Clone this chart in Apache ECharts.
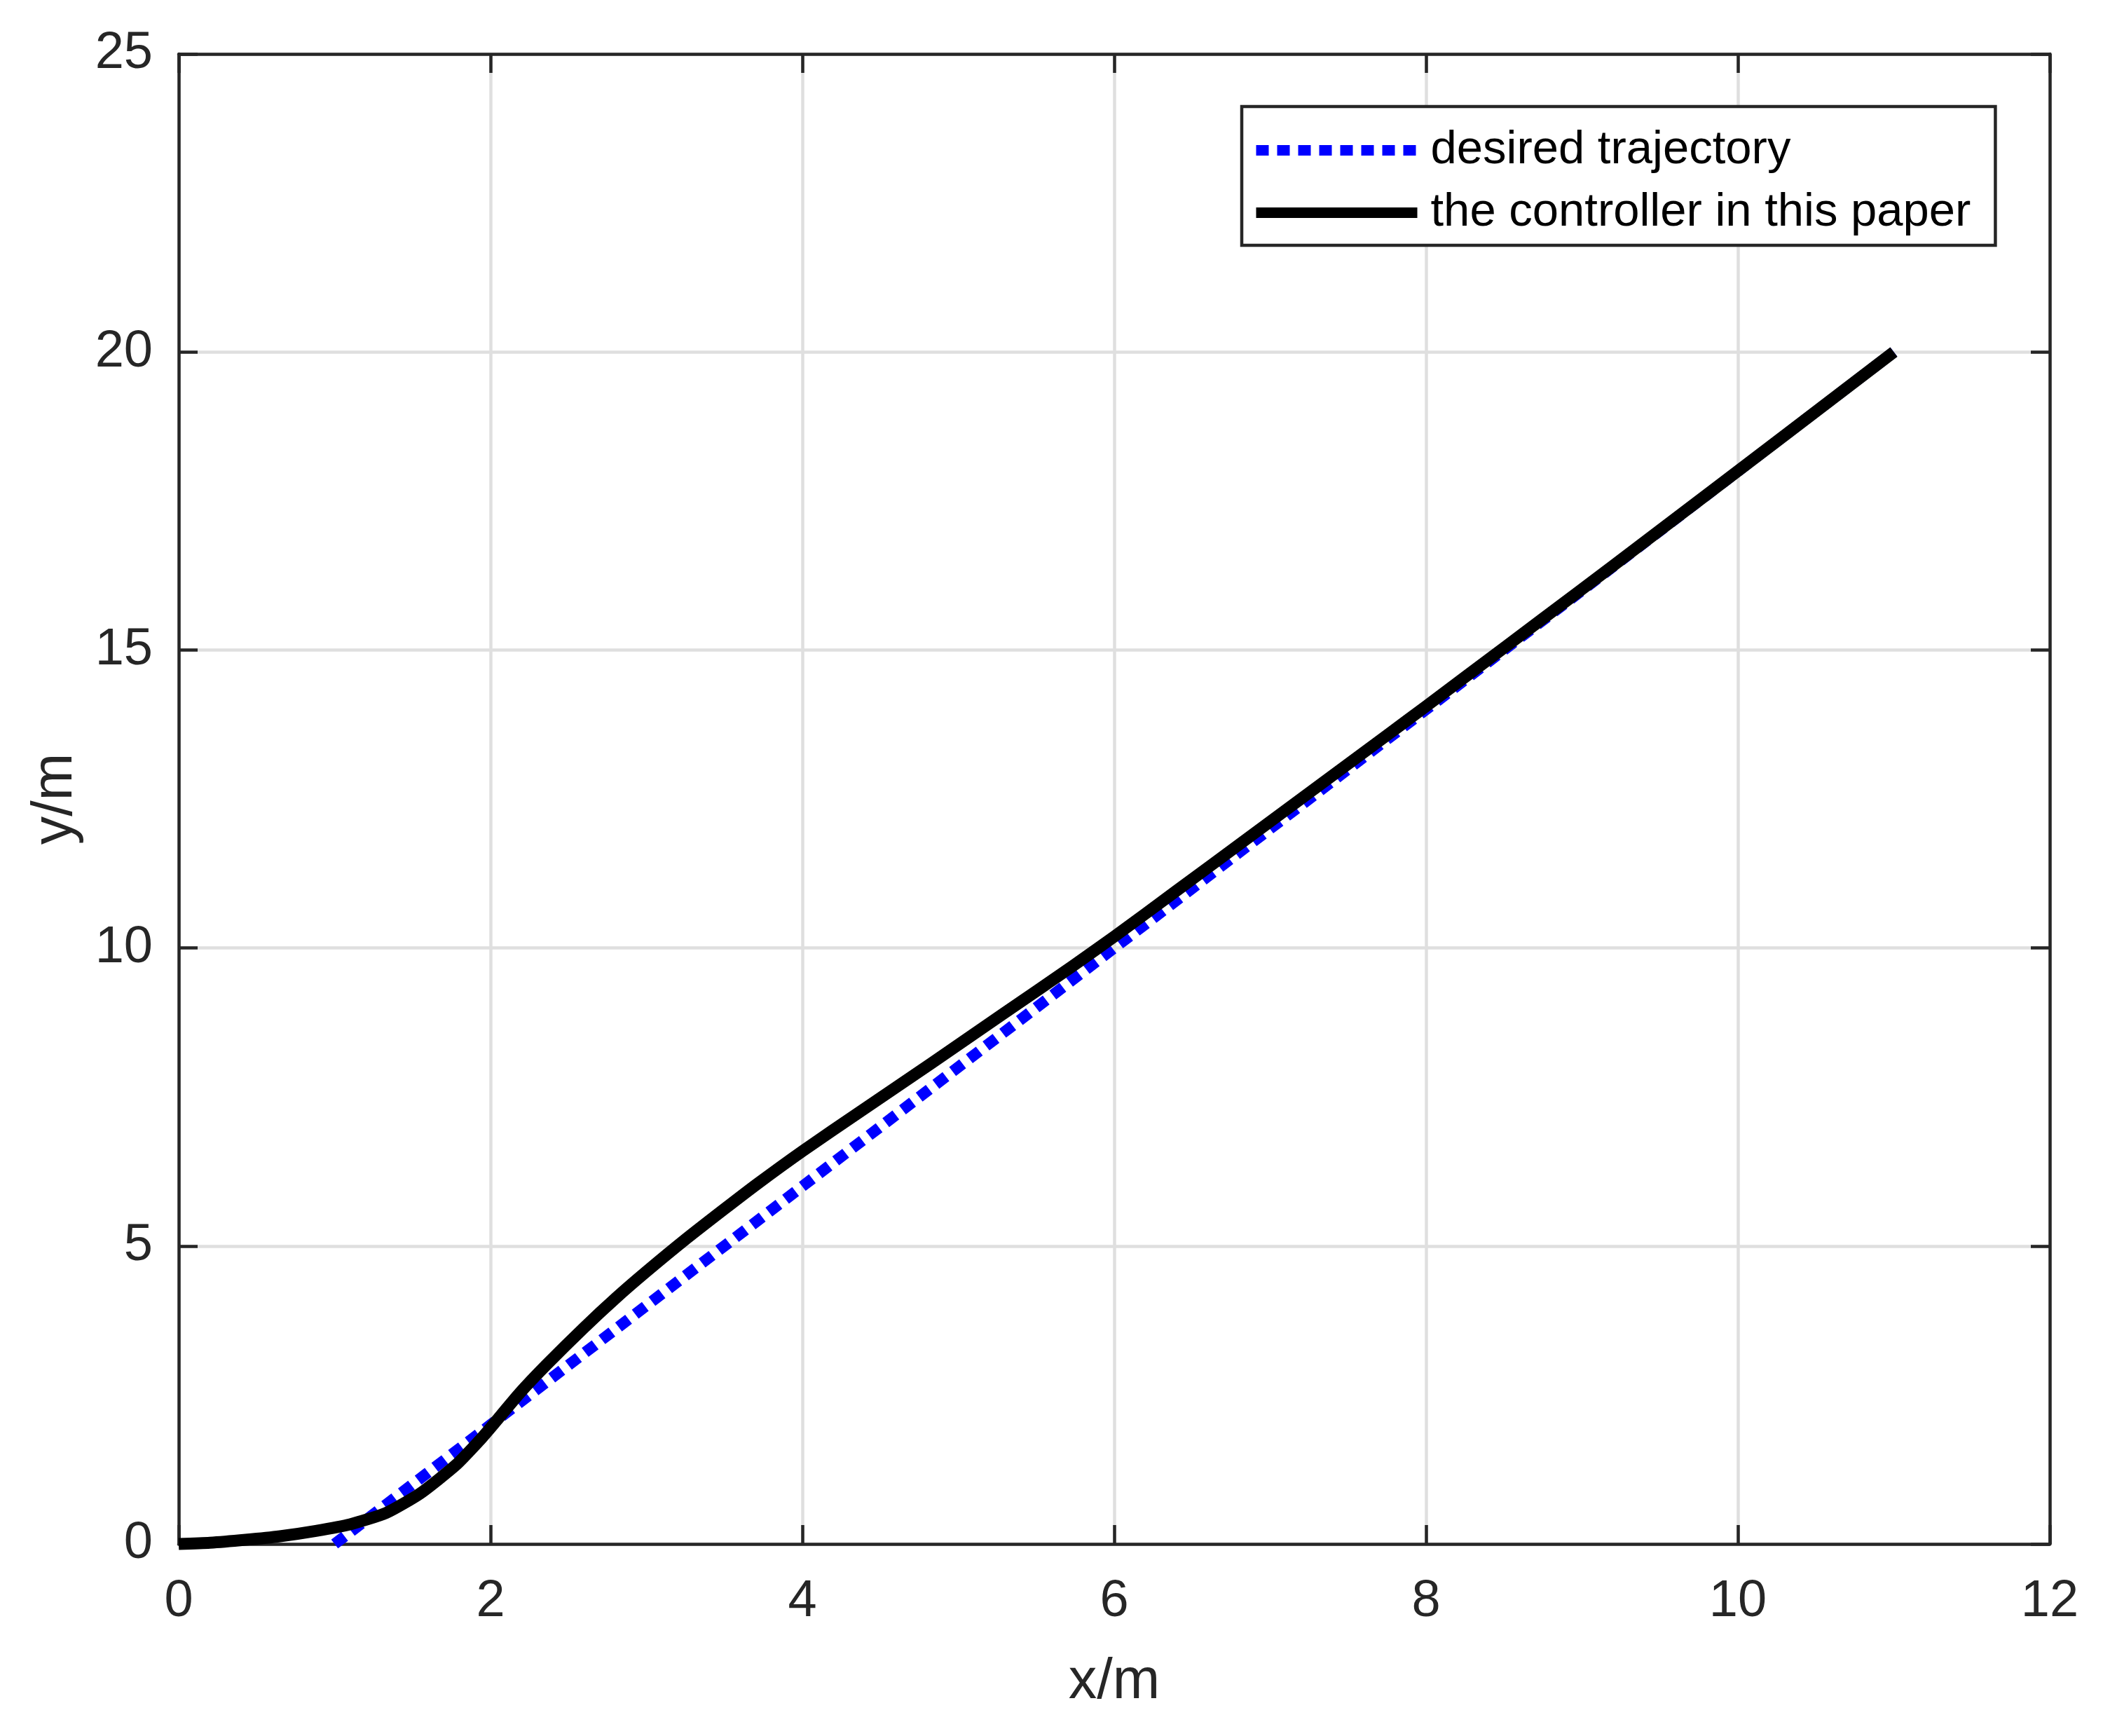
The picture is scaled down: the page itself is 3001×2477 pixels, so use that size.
<!DOCTYPE html>
<html>
<head>
<meta charset="utf-8">
<script src="https://cdn.jsdelivr.net/npm/echarts@6/dist/echarts.min.js"></script>
<style>
html,body{margin:0;padding:0;background:#fff;}
#c{width:3001px;height:2477px;}
</style>
</head>
<body>
<div id="c"></div>
<script>
// ---- data ----
const seriesNames = ['desired trajectory', 'the controller in this paper'];
const desiredX = [1, 2, 4, 6, 8, 10, 11];
const desiredY = [0, 2, 6, 10, 14, 18, 20];
const actualX = [0, 0.2, 0.43, 0.65, 0.88, 1.1, 1.33, 1.55, 1.78, 1.92, 2.0, 2.19, 2.36, 2.6, 2.81, 3.0, 3.26, 3.5, 3.71, 4.0, 4.38, 4.83, 5.28, 5.73, 6.0, 6.4, 6.85, 7.3, 7.75, 8.0, 8.52, 8.97, 9.42, 9.87, 10.31, 11.0];
const actualY = [0, 0.02, 0.07, 0.13, 0.22, 0.33, 0.52, 0.85, 1.33, 1.71, 1.95, 2.54, 3.01, 3.63, 4.14, 4.57, 5.13, 5.62, 6.04, 6.59, 7.27, 8.07, 8.88, 9.69, 10.19, 10.96, 11.83, 12.7, 13.57, 14.055, 15.075, 15.96, 16.85, 17.745, 18.62, 20.0];
const xTicks = {min: 0, max: 12, interval: 2};
const yTicks = {min: 0, max: 25, interval: 5};
const xLabel = 'x/m';
const yLabel = 'y/m';

const FONT = '"Liberation Sans", Arial, Helvetica, sans-serif';
const AX = '#262626';
const zip = (a, b) => a.map((v, i) => [v, b[i]]);

const chart = echarts.init(document.getElementById('c'), null, {renderer: 'canvas'});

const baseAxis = (extra) => Object.assign({
  type: 'value',
  axisLine: {show: true, onZero: false, lineStyle: {color: AX, width: 4.5}},
  axisTick: {show: true, inside: true, length: 27, lineStyle: {color: AX, width: 4.5}},
  splitLine: {show: false},
  axisLabel: {show: false},
}, extra);

const option = {
  backgroundColor: '#ffffff',
  animation: false,
  grid: {left: 255, top: 77, width: 2670, height: 2126, containLabel: false},
  xAxis: [
    baseAxis({
      position: 'bottom', min: xTicks.min, max: xTicks.max, interval: xTicks.interval,
      name: xLabel, nameLocation: 'middle', nameGap: 157,
      nameTextStyle: {fontFamily: FONT, fontSize: 81, color: AX},
      splitLine: {show: true, lineStyle: {color: '#dfdfdf', width: 4.5}},
      axisLabel: {show: true, fontFamily: FONT, fontSize: 74, color: AX, margin: 46}
    }),
    baseAxis({position: 'top', min: xTicks.min, max: xTicks.max, interval: xTicks.interval})
  ],
  yAxis: [
    baseAxis({
      position: 'left', min: yTicks.min, max: yTicks.max, interval: yTicks.interval,
      name: yLabel, nameLocation: 'middle', nameGap: 135,
      nameTextStyle: {fontFamily: FONT, fontSize: 81, color: AX},
      splitLine: {show: true, lineStyle: {color: '#dfdfdf', width: 4.5}},
      axisLabel: {show: true, fontFamily: FONT, fontSize: 74, color: AX, margin: 37}
    }),
    baseAxis({position: 'right', min: yTicks.min, max: yTicks.max, interval: yTicks.interval})
  ],
  legend: {
    orient: 'vertical',
    left: 1772, top: 152,
    padding: [29, 35, 13, 13],
    itemGap: 22,
    itemWidth: 230,
    itemHeight: 15,
    backgroundColor: '#ffffff',
    borderColor: AX,
    borderWidth: 4.5,
    borderRadius: 0,
    selectedMode: false,
    textStyle: {fontFamily: FONT, fontSize: 67, color: '#000', padding: [0, 0, 0, 14]},
    itemStyle: {opacity: 0},
    data: [
      {name: seriesNames[0], lineStyle: {width: 15, type: [18, 12], color: '#0000ff'}},
      {name: seriesNames[1], lineStyle: {width: 15, type: 'solid', color: '#000000'}}
    ]
  },
  series: [
    {
      name: seriesNames[0], type: 'line', xAxisIndex: 0, yAxisIndex: 0,
      data: zip(desiredX, desiredY), showSymbol: false, symbol: 'none', clip: false,
      lineStyle: {color: '#0000ff', width: 16, type: [18, 12], cap: 'butt'},
      itemStyle: {color: '#0000ff'}, z: 3
    },
    {
      name: seriesNames[1], type: 'line', xAxisIndex: 0, yAxisIndex: 0,
      data: zip(actualX, actualY), showSymbol: false, symbol: 'none', clip: false,
      smooth: 0.2,
      lineStyle: {color: '#000000', width: 17, type: 'solid', cap: 'butt', join: 'round'},
      itemStyle: {color: '#000000'}, z: 4
    }
  ]
};
chart.setOption(option);
</script>
</body>
</html>
